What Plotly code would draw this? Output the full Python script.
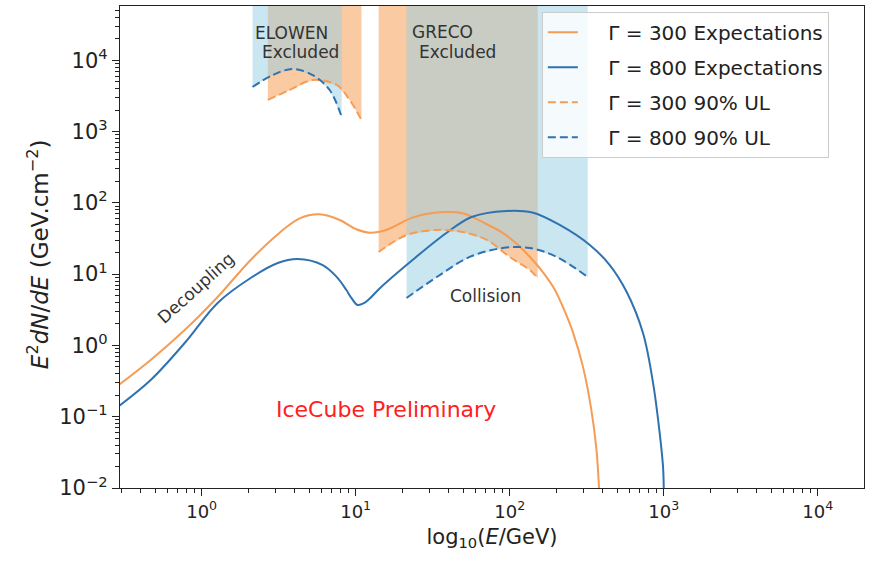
import plotly.graph_objects as go

# ---------------- data ----------------
# Gamma = 300 expectation (solid orange)
E_exp300 = [0.29, 0.467, 0.776, 1.27, 2.08, 3.21, 4.33, 5.83, 7.87, 10.1, 12.3, 15.8, 23.6, 35.1, 49.4,
            71, 88, 110, 135, 165, 195, 225, 258, 299, 339, 366, 380]
F_exp300 = [0.279, 0.624, 1.64, 4.78, 15.8, 38.1, 60.5, 68.9, 57.4, 42.5, 38.1, 41.6, 62.5, 73.5, 71.3,
            50, 39, 27, 17.5, 10.5, 6.2, 3.2, 1.5, 0.50, 0.124, 0.034, 0.01]

# Gamma = 800 expectation (solid blue)
E_exp800 = [0.285, 0.467, 0.776, 1.27, 2.08, 3.12, 4.20, 6.11, 7.5, 8.7, 9.4, 10.3, 11.4, 12.3, 14.3, 23.4,
            39, 56.6, 95, 140, 211, 331, 446, 575, 734, 853, 942, 989, 1000]
F_exp800 = [0.137, 0.327, 1.08, 3.94, 8.81, 14.3, 16.3, 13.4, 9.2, 5.98, 4.6, 3.69, 3.95, 4.5, 6.3, 15.8,
            38, 63.2, 76.7, 73, 48.9, 25.6, 13.4, 5.6, 1.48, 0.294, 0.058, 0.02, 0.01]

# Gamma = 300 90% upper limits (dashed orange), ELOWEN and GRECO
E_ul300_elowen = [2.69, 3.72, 5.26, 7.53, 9.14, 10.9]
F_ul300_elowen = [2770, 3820, 5270, 4490, 2770, 1450]
E_ul300_greco = [14.1, 21.4, 33.6, 49.5, 71.0, 100, 135, 152]
F_ul300_greco = [20.4, 35.3, 41.6, 38.9, 30.1, 17.4, 11.4, 8.81]

# Gamma = 800 90% upper limits (dashed blue), ELOWEN and GRECO
E_ul800_elowen = [2.14, 2.89, 3.90, 5.26, 6.78, 8.11]
F_ul800_elowen = [4210, 6190, 7530, 6190, 3820, 1600]
E_ul800_greco = [21.4, 33.6, 55.0, 90.2, 135, 202, 321]
F_ul800_greco = [4.62, 9.10, 17.4, 23.2, 23.2, 17.4, 9.10]

x_tick_vals = [1, 10, 100, 1000, 10000]
x_tick_text = ["10<sup>0</sup>", "10<sup>1</sup>", "10<sup>2</sup>", "10<sup>3</sup>", "10<sup>4</sup>"]
y_tick_vals = [0.01, 0.1, 1, 10, 100, 1000, 10000]
y_tick_text = ["10<sup>\u22122</sup>", "10<sup>\u22121</sup>", "10<sup>0</sup>", "10<sup>1</sup>",
               "10<sup>2</sup>", "10<sup>3</sup>", "10<sup>4</sup>"]

legend_names = ["\u0393 = 300 Expectations", "\u0393 = 800 Expectations",
                "\u0393 = 300 90% UL", "\u0393 = 800 90% UL"]

ORANGE = "#f59c55"
BLUE = "#2f72b0"
ORANGE_FILL = "rgba(245,150,70,0.5)"
BLUE_FILL = "rgba(150,205,228,0.5)"
TOP = 1e6
FONT = "DejaVu Sans"
TXT = "#222"
PAD = "\u00a0" * 4

fig = go.Figure()


def band(E, F, color):
    fig.add_trace(go.Scatter(
        x=list(E) + [E[-1], E[0]],
        y=list(F) + [TOP, TOP],
        mode="lines", fill="toself", fillcolor=color,
        line=dict(width=0), showlegend=False, hoverinfo="skip"))


band(E_ul300_elowen, F_ul300_elowen, ORANGE_FILL)
band(E_ul300_greco, F_ul300_greco, ORANGE_FILL)
band(E_ul800_elowen, F_ul800_elowen, BLUE_FILL)
band(E_ul800_greco, F_ul800_greco, BLUE_FILL)

solid = dict(width=2, shape="spline", smoothing=1.0)
dashed = dict(width=2, dash="8px,4px", shape="spline", smoothing=1.0)

fig.add_trace(go.Scatter(x=E_exp300, y=F_exp300, mode="lines", line=dict(color=ORANGE, **solid),
                         name=PAD + legend_names[0], legendgroup="a"))
fig.add_trace(go.Scatter(x=E_exp800, y=F_exp800, mode="lines", line=dict(color=BLUE, **solid),
                         name=PAD + legend_names[1], legendgroup="b"))
fig.add_trace(go.Scatter(x=E_ul300_elowen, y=F_ul300_elowen, mode="lines", line=dict(color=ORANGE, **dashed),
                         name=PAD + legend_names[2], legendgroup="c"))
fig.add_trace(go.Scatter(x=E_ul300_greco, y=F_ul300_greco, mode="lines", line=dict(color=ORANGE, **dashed),
                         name=PAD + legend_names[2], legendgroup="c", showlegend=False))
fig.add_trace(go.Scatter(x=E_ul800_elowen, y=F_ul800_elowen, mode="lines", line=dict(color=BLUE, **dashed),
                         name=PAD + legend_names[3], legendgroup="d"))
fig.add_trace(go.Scatter(x=E_ul800_greco, y=F_ul800_greco, mode="lines", line=dict(color=BLUE, **dashed),
                         name=PAD + legend_names[3], legendgroup="d", showlegend=False))

minor_vals = [m * 10 ** k for k in range(-3, 6) for m in range(2, 10)]

axis_common = dict(
    type="log", showline=True, mirror=True, linecolor=TXT, linewidth=1.3,
    ticks="outside", ticklen=7, tickwidth=1.3, tickcolor=TXT,
    showgrid=False, zeroline=False,
    minor=dict(ticks="outside", ticklen=3.5, tickwidth=1, tickcolor=TXT,
               tickmode="array", tickvals=minor_vals, showgrid=False),
)

fig.update_xaxes(**axis_common, range=[-0.53, 4.30], tickmode="array",
                 tickvals=x_tick_vals, ticktext=x_tick_text,
                 tickfont=dict(family=FONT, size=18, color=TXT),
                 title=dict(text="log<sub>10</sub>(<i>E</i>/GeV)", font=dict(family=FONT, size=21, color=TXT), standoff=8))
fig.update_yaxes(**axis_common, range=[-2, 4.76], tickmode="array",
                 tickvals=y_tick_vals, ticktext=y_tick_text,
                 tickfont=dict(family=FONT, size=21, color=TXT))

ann_font = dict(family=FONT, size=17, color="#333")
annotations = [
    dict(text="ELOWEN", x=0.231, y=0.944),
    dict(text="Excluded", x=0.243, y=0.905),
    dict(text="GRECO", x=0.433, y=0.946),
    dict(text="Excluded", x=0.453, y=0.905),
    dict(text="Collision", x=0.491, y=0.398),
]
for a in annotations:
    fig.add_annotation(xref="paper", yref="paper", showarrow=False, font=ann_font,
                       xanchor="center", yanchor="middle", **a)
fig.add_annotation(xref="paper", yref="paper", x=0.102, y=0.415, text="Decoupling", textangle=-42,
                   showarrow=False, font=ann_font, xanchor="center", yanchor="middle")
fig.add_annotation(xref="paper", yref="paper", x=0.358, y=0.162, text="IceCube Preliminary",
                   showarrow=False, font=dict(family=FONT, size=22, color="#ff2020"),
                   xanchor="center", yanchor="middle")
# y-axis title (placed as rotated text to match the reference position)
fig.add_annotation(xref="paper", yref="paper", x=-0.110, y=0.4855,
                   text="<i>E</i><sup>2</sup><i>dN</i>/<i>dE</i> (GeV.cm<sup>\u22122</sup>)",
                   textangle=-90, showarrow=False, font=dict(family=FONT, size=23, color=TXT),
                   xanchor="center", yanchor="middle")

fig.update_layout(
    width=871, height=561,
    margin=dict(l=120, r=7, t=6, b=73),
    paper_bgcolor="white", plot_bgcolor="white",
    legend=dict(x=0.567, y=0.988, xanchor="left", yanchor="top",
                bgcolor="rgba(255,255,255,0.8)", bordercolor="#cccccc", borderwidth=1,
                font=dict(family=FONT, size=20, color=TXT),
                tracegroupgap=6, itemwidth=30),
    showlegend=True,
)

fig.write_html("out.html")
